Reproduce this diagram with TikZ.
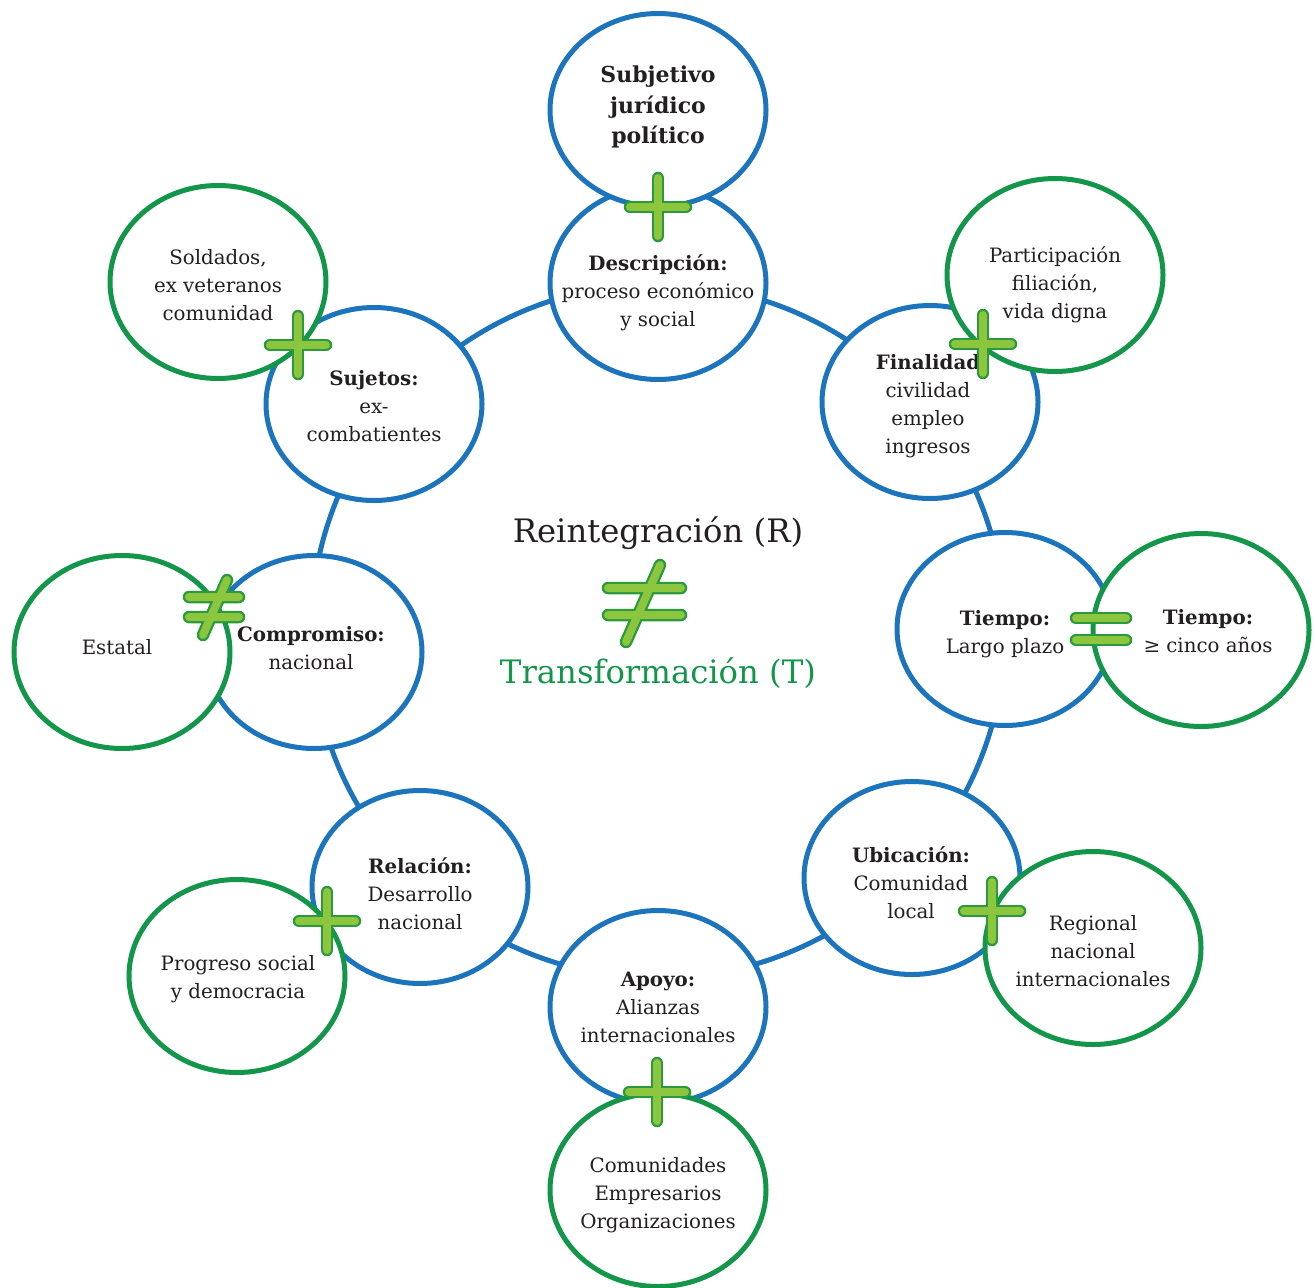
\documentclass[tikz,border=0pt]{standalone}
\usepackage{fontspec}
\setmainfont{DejaVu Serif}
\usetikzlibrary{shapes.geometric}
\definecolor{rblue}{HTML}{1C75BC}
\definecolor{rgreen}{HTML}{13954A}
\definecolor{plight}{HTML}{8CC63F}
\definecolor{pdark}{HTML}{2A9A3C}
\definecolor{txt}{HTML}{231F20}
\tikzset{
  bcirc/.style={ellipse, draw=rblue, line width=5pt, fill=white, minimum width=216pt, minimum height=193pt, inner sep=0pt},
  gcirc/.style={ellipse, draw=rgreen, line width=5pt, fill=white, minimum width=216pt, minimum height=193pt, inner sep=0pt},
  lbl/.style={align=center, text=txt, inner sep=0pt, font=\fontsize{19.8}{28}\selectfont},
  title/.style={align=center, inner sep=0pt, font=\fontsize{32.3}{38}\selectfont},
  barout/.style={draw=pdark, line width=12.5pt, line cap=round},
  barin/.style={draw=plight, line width=8pt, line cap=round}
}
\newcommand{\PlusMark}[2]{%
  \draw[barout] (#1-28,#2) -- (#1+28,#2) (#1,#2-29) -- (#1,#2+29);
  \draw[barin]  (#1-28,#2) -- (#1+28,#2) (#1,#2-29) -- (#1,#2+29);
}
\begin{document}
\begin{tikzpicture}[x=1pt,y=-1pt]
\useasboundingbox (0,0) rectangle (1316,1287);
% ring
\node[circle, draw=rblue, line width=5pt, minimum size=694pt, inner sep=0pt] (ring) at (658,631) {};
% blue circles
\node[bcirc] (desc) at (658,283) {};
\node[bcirc] (suj) at (374,404) {};
\node[bcirc] (fin) at (930,402) {};
\node[bcirc] (tiemB) at (1005,629) {};
\node[bcirc] (comp) at (314,652) {};
\node[bcirc] (rel) at (420,887) {};
\node[bcirc] (ubi) at (912,878) {};
\node[bcirc] (apo) at (658,1007) {};
\node[bcirc] (subj) at (658,110) {};
% green circles
\node[gcirc] (sold) at (218,282) {};
\node[gcirc] (part) at (1055,275) {};
\node[gcirc] (esta) at (122,652) {};
\node[gcirc] (tiemG) at (1201,630) {};
\node[gcirc] (prog) at (237,976) {};
\node[gcirc] (regi) at (1093,948) {};
\node[gcirc] (comu) at (658,1190) {};
% texts
\node[lbl, font=\fontsize{22}{30.5}\selectfont\bfseries] (tSubj) at (658,107) {Subjetivo\\jurídico\\político};
\node[lbl] (tDesc) at (658,293) {\textbf{Descripción:}\\proceso económico\\y social};
\node[lbl] (tSuj) at (374,406) {\textbf{Sujetos:}\\ex-\\combatientes};
\node[lbl] (tSold) at (218,285) {Soldados,\\ex veteranos\\comunidad};
\node[lbl] (tPart) at (1055,285) {Participación\\filiación,\\vida digna};
\node[lbl] (tFin) at (928,406) {\textbf{Finalidad}\\civilidad\\empleo\\ingresos};
\node[lbl] (tTiemB) at (1005,634) {\textbf{Tiempo:}\\Largo plazo};
\node[lbl] (tTiemG) at (1208,631) {\textbf{Tiempo:}\\≥ cinco años};
\node[lbl] (tComp) at (311,648) {\textbf{Compromiso:}\\nacional};
\node[lbl] (tEsta) at (117,647) {Estatal};
\node[lbl] (tRel) at (420,894) {\textbf{Relación:}\\Desarrollo\\nacional};
\node[lbl] (tProg) at (238,979) {Progreso social\\y democracia};
\node[lbl] (tUbi) at (911,883) {\textbf{Ubicación:}\\Comunidad\\local};
\node[lbl] (tRegi) at (1093,951) {Regional\\nacional\\internacionales};
\node[lbl] (tApo) at (658,1007) {\textbf{Apoyo:}\\Alianzas\\internacionales};
\node[lbl] (tComu) at (658,1195) {Comunidades\\Empresarios\\Organizaciones};
\node[title, text=txt] (tR) at (658,533) {Reintegración (R)};
\node[title, text=rgreen] (tT) at (658,673) {Transformación (T)};
% plus signs
\PlusMark{658}{207}
\PlusMark{298}{345}
\PlusMark{983}{344}
\PlusMark{327}{921}
\PlusMark{992}{911}
\PlusMark{657}{1092}
% equal sign (Tiempo)
\draw[barout] (1076,618) -- (1126,618) (1076,640) -- (1126,640);
\draw[barin]  (1076,618) -- (1126,618) (1076,640) -- (1126,640);
% not-equal (Compromiso / Estatal)
\draw[barout] (189,597) -- (239,597) (189,617) -- (239,617) (227,580) -- (203,635);
\draw[barin]  (189,597) -- (239,597) (189,617) -- (239,617) (227,580) -- (203,635);
% central not-equal
\draw[barout] (608,588) -- (681,588) (608,615) -- (681,615) (660,565) -- (626,642);
\draw[barin]  (608,588) -- (681,588) (608,615) -- (681,615) (660,565) -- (626,642);
\end{tikzpicture}
\end{document}
